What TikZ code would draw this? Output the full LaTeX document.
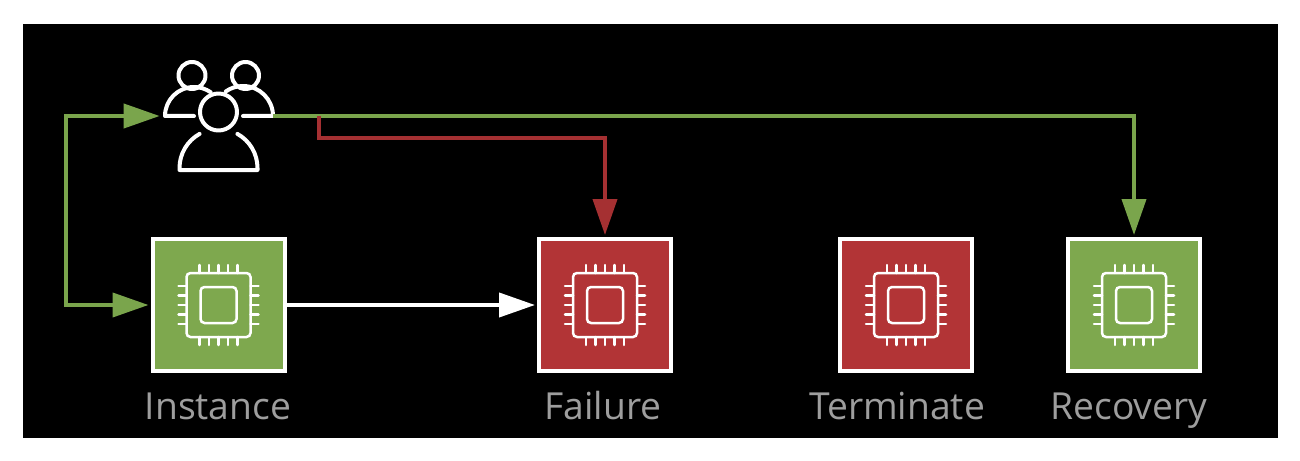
\documentclass[tikz,border=0pt]{standalone}
\usepackage{fontspec}
\setmainfont{Open Sans}
\usetikzlibrary{arrows.meta}
\usetikzlibrary{calc}
\definecolor{chipgreen}{RGB}{126,168,78}
\definecolor{chipred}{RGB}{178,52,54}
\definecolor{linegreen}{RGB}{122,165,76}
\definecolor{linered}{RGB}{165,48,50}
\definecolor{labelgray}{RGB}{158,158,158}
\tikzset{
    chipbox/.style={draw=white,line width=0.08cm,minimum size=2.64cm,inner sep=0pt},
    chiplabel/.style={text=labelgray,font=\fontsize{21.2}{25}\selectfont,inner sep=0pt,anchor=base},
    chipline/.style={draw=white,line width=0.05cm,line cap=round,rounded corners=0.08cm},
    userline/.style={draw=white,line width=0.08cm,line cap=round,line join=round},
    flow/.style={line width=0.08cm,shorten >=0.04cm,-{Triangle[length=0.72cm,width=0.48cm]}},
}
% chip icon, drawn on top of a box
\newcommand{\chipicon}[1]{
    \draw[chipline] ($(#1)+(-0.64,-0.64)$) rectangle ($(#1)+(0.64,0.64)$);
    \draw[chipline] ($(#1)+(-0.36,-0.36)$) rectangle ($(#1)+(0.36,0.36)$);
    \foreach \p in {-0.38,-0.19,0,0.19,0.38}
    {
        \draw[chipline] ($(#1)+(\p,0.64)$) -- ++(0,0.16);
        \draw[chipline] ($(#1)+(\p,-0.64)$) -- ++(0,-0.16);
        \draw[chipline] ($(#1)+(0.64,\p)$) -- ++(0.16,0);
        \draw[chipline] ($(#1)+(-0.64,\p)$) -- ++(-0.16,0);
    }
}
\begin{document}
\begin{tikzpicture}
    \useasboundingbox (0,0) rectangle (26,9.2);
    \fill[white] (0,0) rectangle (26,9.2);
    \fill[black] (0.46,0.44) rectangle (25.56,8.72);

    \node (instance) [chipbox,fill=chipgreen] at (4.37,3.1) {};
    \node (failure) [chipbox,fill=chipred] at (12.1,3.1) {};
    \node (terminate) [chipbox,fill=chipred] at (18.12,3.1) {};
    \node (recovery) [chipbox,fill=chipgreen] at (22.68,3.1) {};

    \chipicon{instance}
    \chipicon{failure}
    \chipicon{terminate}
    \chipicon{recovery}

    \node (instancetext) [chiplabel] at (4.36,0.82) {Instance};
    \node (failuretext) [chiplabel] at (12.06,0.82) {Failure};
    \node (terminatetext) [chiplabel] at (17.94,0.82) {Terminate};
    \node (recoverytext) [chiplabel] at (22.58,0.82) {Recovery};

    % users icon
    \node (users) [minimum width=2.26cm,minimum height=0.1cm,inner sep=0pt] at (4.33,6.88) {};
    \draw[userline] (3.88,6.88) -- (3.3,6.88) arc (180:55:0.58);
    \draw[userline] (4.86,6.88) -- (5.46,6.88) arc (0:125:0.6);
    \draw[userline] (3.84,7.69) circle [radius=0.27];
    \draw[userline] (4.91,7.69) circle [radius=0.27];
    \draw[userline] (4.37,6.96) circle [radius=0.37];
    \draw[userline] (4.37,5.8) -- (3.59,5.8) -- (3.59,5.84) arc (180:119:0.78);
    \draw[userline] (4.37,5.8) -- (5.15,5.8) -- (5.15,5.84) arc (0:61:0.78);

    \coordinate (loop) at (1.32,6.88);
    \coordinate (loopend) at (1.32,3.1);
    \coordinate (branch) at (6.38,6.88);
    \coordinate (branchdown) at (6.38,6.44);
    \coordinate (branchright) at (12.1,6.44);
    \coordinate (topright) at (22.68,6.88);

    \draw[flow,linegreen,{Triangle[length=0.72cm,width=0.48cm]}-{Triangle[length=0.72cm,width=0.48cm]}] (users.west) -- (loop) -- (loopend) -- (instance.west);
    \draw[flow,linegreen] (users.east) -- (topright) -- (recovery.north);
    \draw[flow,linered] (branch) -- (branchdown) -- (branchright) -- (failure.north);
    \draw[flow,white] (instance.east) -- (failure.west);
\end{tikzpicture}
\end{document}
